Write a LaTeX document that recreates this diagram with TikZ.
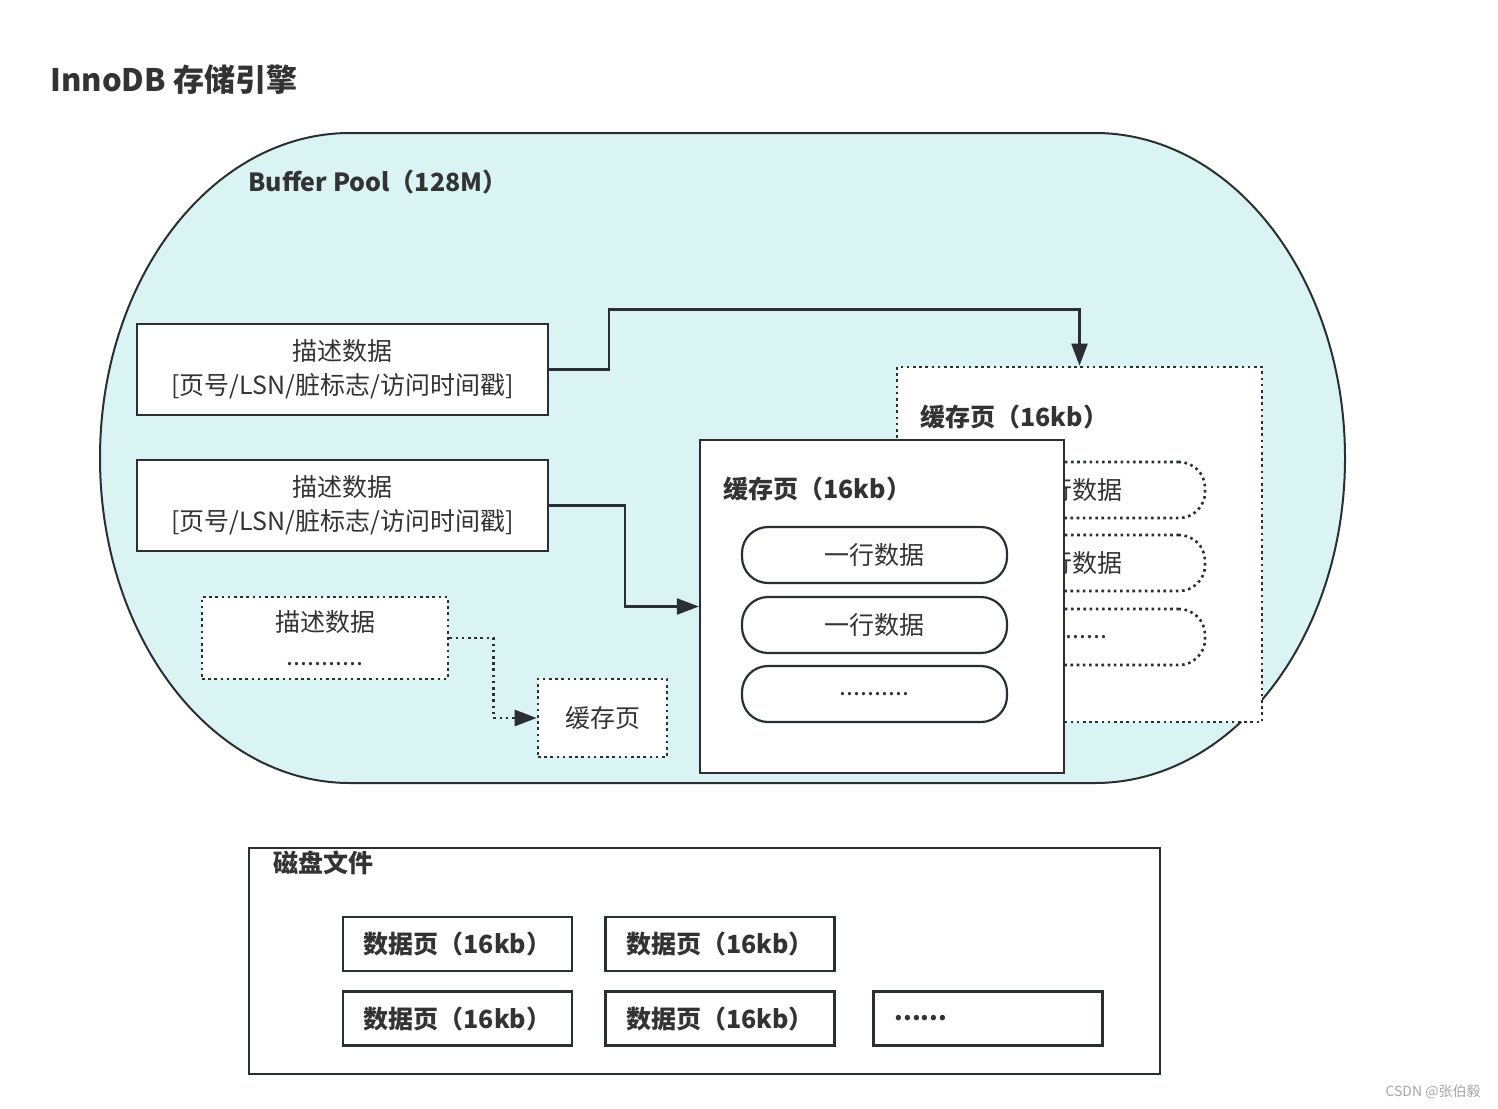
\documentclass[tikz,border=0pt]{standalone}
\usepackage{fontspec}
\setmainfont{Noto Sans CJK SC}
\usepackage{xcolor}
\usepackage{tikz}
\usetikzlibrary{arrows.meta}

\definecolor{poolfill}{RGB}{217,244,243}
\definecolor{linegray}{RGB}{43,47,51}
\definecolor{textgray}{RGB}{51,51,51}
\newcommand{\txtsize}[2]{\fontsize{#1}{#2}\selectfont}

\begin{document}
\begin{tikzpicture}[
    x=1pt, y=-1pt,
    line width=2.2pt,
    box/.style={draw=linegray, fill=white, rectangle, align=center,
      text=textgray, font=\txtsize{25}{34}},
    dotline/.style={line width=2.6pt, dash pattern=on 2.6pt off 3.6pt},
    dotbox/.style={box, dotline},
    rowbox/.style={box, rounded corners=26pt, minimum width=265pt,
      minimum height=56pt},
    pagebox/.style={box, minimum width=229pt, minimum height=54pt,
      font=\bfseries\txtsize{25}{30}},
    caption/.style={anchor=west, text=textgray, font=\bfseries\txtsize{25}{30}},
    arrow/.style={draw=linegray, -{Triangle[length=22pt,width=16pt]}}
]
\path[fill=white] (0,0) rectangle (1498,1108);

\node[caption, font=\bfseries\txtsize{31}{36}] (title) at (46,80) {InnoDB 存储引擎};

% buffer pool
\path[draw=linegray, fill=poolfill, line width=2pt]
  (350,133) -- (1095,133) arc[start angle=90, end angle=-90, x radius=250pt, y radius=325pt]
  -- (350,783) arc[start angle=270, end angle=90, x radius=250pt, y radius=325pt] -- cycle;
\node[caption] (pool_name) at (244,182) {Buffer Pool（128M）};

\node[box, minimum width=411pt, minimum height=91pt] (desc_a) at (342.5,369.5)
  {描述数据\\{[}页号/LSN/脏标志/访问时间戳{]}};
\node[box, minimum width=411pt, minimum height=91pt] (desc_b) at (342.5,505.5)
  {描述数据\\{[}页号/LSN/脏标志/访问时间戳{]}};
\node[dotbox, minimum width=246pt, minimum height=82pt] (desc_c) at (325,638)
  {描述数据\\...........};
\node[dotbox, minimum width=129pt, minimum height=78pt] (cache_small) at (602.5,718) {缓存页};

% back page
\node[dotbox, minimum width=365pt, minimum height=355pt] (back_page) at (1079.5,544.5) {};
\node[caption] (back_name) at (916,417) {缓存页（16kb）};
\node[rowbox, dotline] (back_row_a) at (1072.5,490) {一行数据};
\node[rowbox, dotline] (back_row_b) at (1072.5,563) {一行数据};
\node[rowbox, dotline] (back_row_c) at (1072.5,637) {..........};

% front page
\node[box, minimum width=364pt, minimum height=333pt] (front_page) at (882,606.5) {};
\node[caption] (front_name) at (719,489) {缓存页（16kb）};
\node[rowbox] (row_a) at (874.5,555) {一行数据};
\node[rowbox] (row_b) at (874.5,625) {一行数据};
\node[rowbox] (row_c) at (874.5,694) {..........};

\draw[arrow] (desc_a.east) -- ++(60,0) -- ++(0,-60) -| (back_page.north);
\draw[arrow] (desc_b.east) -- ++(76,0) |- (front_page.west);
\draw[arrow, dotline] (desc_c.east) -- ++(44,0) |- (cache_small.west);

% disk
\node[box, minimum width=911pt, minimum height=226pt] (disk) at (704.5,961) {};
\node[caption] (disk_name) at (269,863) {磁盘文件};
\node[pagebox] (data_a) at (457.5,944) {数据页（16kb）};
\node[pagebox] (data_b) at (720,944) {数据页（16kb）};
\node[pagebox] (data_c) at (457.5,1018.5) {数据页（16kb）};
\node[pagebox] (data_d) at (720,1018.5) {数据页（16kb）};
\node[pagebox, text width=187pt, align=left] (data_more) at (988,1018.5) {......};

\node[anchor=east, text=gray!70, font=\txtsize{14}{16}] (mark) at (1485,1092) {CSDN @张伯毅};
\end{tikzpicture}
\end{document}
